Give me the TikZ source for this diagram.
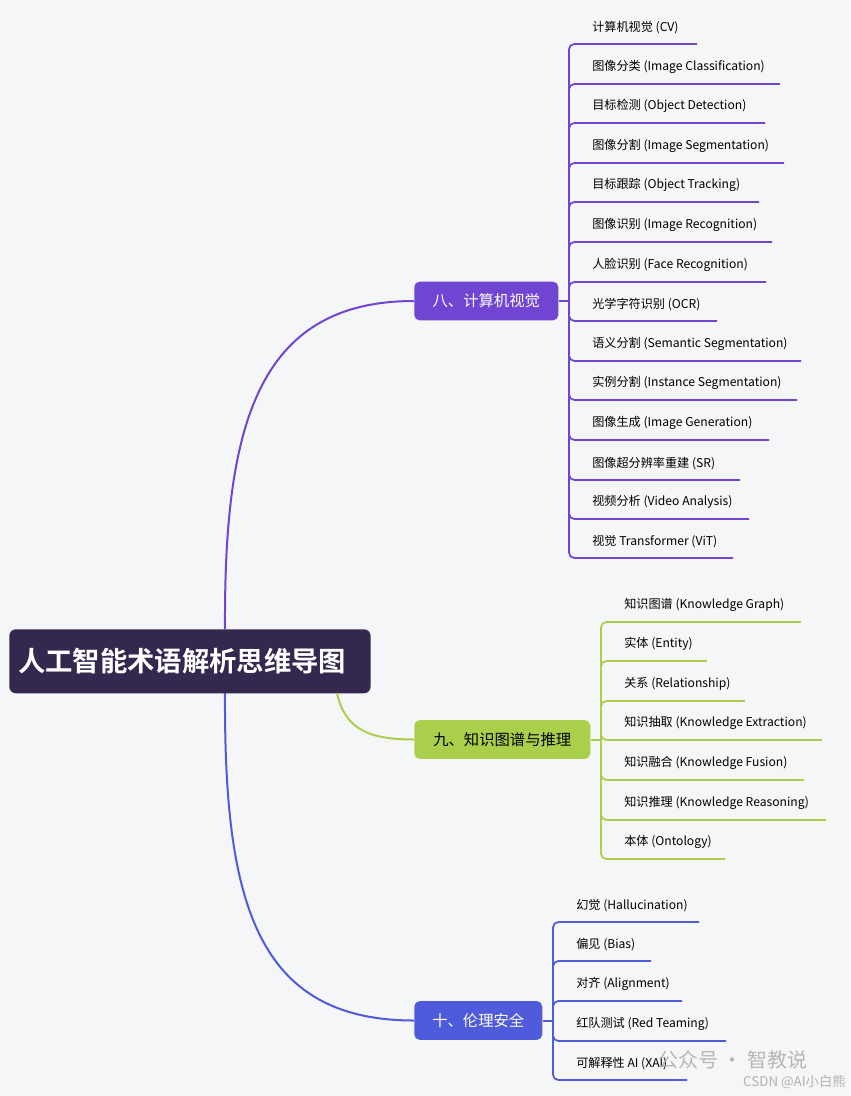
\documentclass[tikz,border=0pt]{standalone}
\usepackage{fontspec}
\setmainfont{Noto Sans CJK SC}
\newfontfamily\cjkb{Noto Sans CJK SC Bold}
\definecolor{bg}{HTML}{F5F6F8}
\definecolor{rootc}{HTML}{35284F}
\definecolor{cA}{HTML}{6F45D2}
\definecolor{cB}{HTML}{AACF4A}
\definecolor{cC}{HTML}{4F5BDB}
\tikzset{
 leaf/.style={anchor=south west,inner sep=0pt,font=\fontsize{9.1pt}{11pt}\selectfont,text=black},
 branch/.style={rounded corners=4pt,minimum height=29pt,inner sep=0pt,anchor=west,font=\fontsize{11.5pt}{13pt}\selectfont},
 link/.style={line width=1.5pt},
 bline/.style={line width=1.3pt,rounded corners=4pt}
}
\begin{document}
\begin{tikzpicture}[x=0.75pt,y=-0.75pt]
\fill[bg] (0,0) rectangle (850,1096);
\useasboundingbox (0,0) rectangle (850,1096);
\node[fill=rootc,rounded corners=5pt,minimum width=271pt,minimum height=48pt,anchor=north west,inner sep=0pt] (root) at (9,629) {};
\node[anchor=west,text=white,font=\cjkb\fontsize{20.5pt}{22pt}\selectfont,inner sep=0pt] (roott) at (18,661) {人工智能术语解析思维导图};
% branch nodes
\node[branch,fill=cA,text=white,minimum width=108pt] (b1) at (414,301) {八、计算机视觉};
\node[branch,fill=cB,text=black,minimum width=132pt] (b2) at (414,739.5) {九、知识图谱与推理};
\node[branch,fill=cC,text=white,minimum width=96pt] (b3) at (414,1020.5) {十、伦理安全};
\coordinate (r1) at (225,629);
\coordinate (r2) at (337,693);
\coordinate (r3) at (225,693);
\draw[link,cA] (r1) .. controls (224,430) and (255,301) .. (b1.west);
\draw[link,cB] (r2) .. controls (345,730) and (370,739.5) .. (b2.west);
\draw[link,cC] (r3) .. controls (224,900) and (255,1020.5) .. (b3.west);
% branch 1 children
\coordinate (k1) at (569,301);
\draw[link,cA] (b1.east) -- (k1);
\foreach \y/\e/\t [count=\i] in {44/697/计算机视觉 (CV),84/780/图像分类 (Image Classification),123/765/目标检测 (Object Detection),163/784/图像分割 (Image Segmentation),202/759/目标跟踪 (Object Tracking),242/772/图像识别 (Image Recognition),282/766/人脸识别 (Face Recognition),321/717/光学字符识别 (OCR),361/801/语义分割 (Semantic Segmentation),400/797/实例分割 (Instance Segmentation),440/769/图像生成 (Image Generation),480/740/图像超分辨率重建 (SR),519/749/视频分析 (Video Analysis),558/733/视觉 Transformer (ViT)}{
 \coordinate (ae\i) at (\e,\y);
 \draw[bline,cA] (k1) |- (ae\i);
 \node[leaf] (a\i) at (592,\y-10) {\t};
}
% branch 2 children
\coordinate (k2) at (601,739.5);
\draw[link,cB] (b2.east) -- (k2);
\foreach \y/\e/\t [count=\i] in {622/801/知识图谱 (Knowledge Graph),661/707/实体 (Entity),701/745/关系 (Relationship),740/822/知识抽取 (Knowledge Extraction),780/804/知识融合 (Knowledge Fusion),820/826/知识推理 (Knowledge Reasoning),859/725/本体 (Ontology)}{
 \coordinate (be\i) at (\e,\y);
 \draw[bline,cB] (k2) |- (be\i);
 \node[leaf] (bb\i) at (624,\y-10) {\t};
}
% branch 3 children
\coordinate (k3) at (553,1020.5);
\draw[link,cC] (b3.east) -- (k3);
\foreach \y/\e/\t [count=\i] in {922/699/幻觉 (Hallucination),961/651/偏见 (Bias),1001/682/对齐 (Alignment),1041/726/红队测试 (Red Teaming),1080/687/可解释性 AI (XAI)}{
 \coordinate (ce\i) at (\e,\y);
 \draw[bline,cC] (k3) |- (ce\i);
 \node[leaf] (c\i) at (576,\y-10) {\t};
}
% watermark
\node[anchor=west,text=black!35,font=\fontsize{15pt}{17pt}\selectfont,inner sep=0pt,opacity=0.8] (wm1) at (658,1060) {公众号 · 智教说};
\node[anchor=east,text=black!30,font=\fontsize{10pt}{12pt}\selectfont,inner sep=0pt] (wm2) at (846,1082) {CSDN @AI小白熊};
\end{tikzpicture}
\end{document}
